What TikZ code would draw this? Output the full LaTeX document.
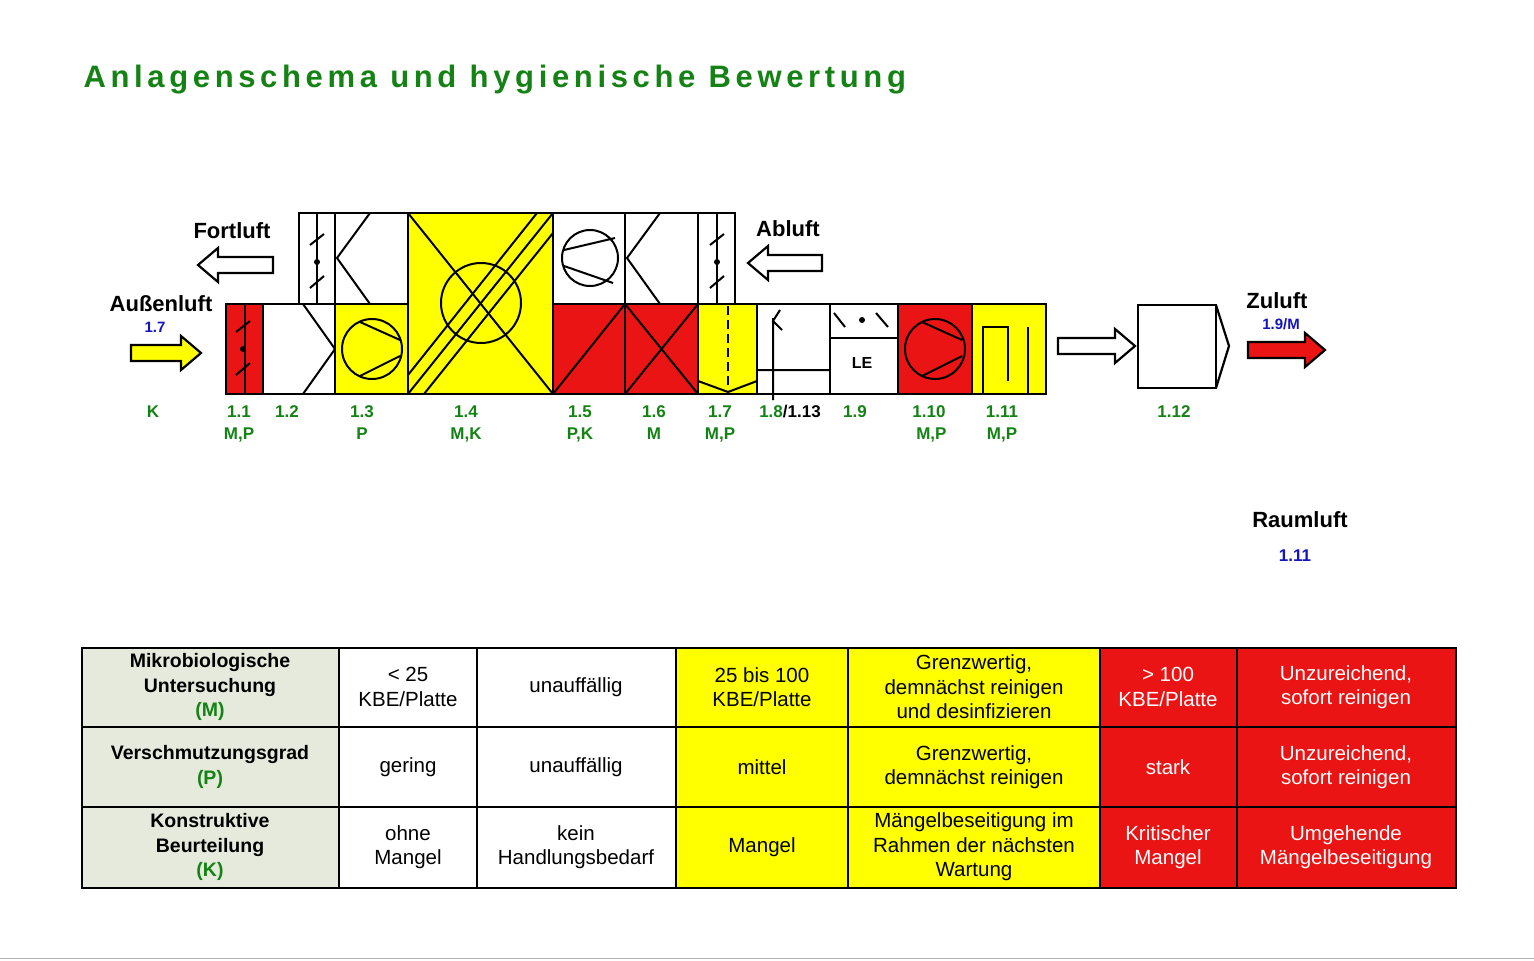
\documentclass[tikz,border=0pt]{standalone}
\usepackage{fontspec}
\setmainfont{Liberation Sans}
\usetikzlibrary{positioning}
\definecolor{ygreen}{RGB}{20,130,20}
\definecolor{lblue}{RGB}{20,20,190}
\definecolor{hred}{RGB}{235,20,20}
\definecolor{hyel}{RGB}{255,255,0}
\definecolor{hgray}{RGB}{229,234,220}
\tikzset{
  unit/.style={draw,line width=2.2pt},
  sym/.style={line width=2pt},
  num/.style={text=ygreen,font=\bfseries\fontsize{17}{22}\selectfont,align=center,inner sep=0pt},
  airlabel/.style={font=\bfseries\fontsize{22}{24}\selectfont,inner sep=0pt},
}
% hollow air arrow: fill, x, y, direction, length
\newcommand\airarrow[5]{\path[draw,line width=2.2pt,fill=#1,shift={(#2,#3)},xscale=#4]
  (0,-8)--(#5-20,-8)--(#5-20,-17)--(#5,0)--(#5-20,17)--(#5-20,8)--(0,8)--cycle;}
% damper symbol around a centre
\newcommand\damper[3]{\begin{scope}[shift={(#1,#2)},rotate=#3]
  \draw[sym] (-7,-17)--(7,-28) (-7,26)--(7,14); \fill (0,0) circle (3);\end{scope}}
\begin{document}
\begin{tikzpicture}[x=1pt,y=-1pt]
\useasboundingbox (0,0) rectangle (1534,961);
\node[anchor=west,text=ygreen,font=\bfseries\fontsize{31}{33}\selectfont\addfontfeature{LetterSpace=15}] (title) at (80,80) {Anlagenschema und hygienische Bewertung};
% upper row
\draw[unit,fill=white] (299,213) rectangle (335,304);
\draw[sym] (317,213)--(317,304); \damper{317}{262}{0}
\draw[unit,fill=white] (335,213) rectangle (408,304);
\draw[sym] (370,213)--(337,258)--(370,304);
\draw[unit,fill=white] (553,213) rectangle (625,304);
\draw[sym] (590,258) circle (28) (615,238)--(564,250) (564,266)--(613,283);
\draw[unit,fill=white] (625,213) rectangle (698,304);
\draw[sym] (660,213)--(627,258)--(660,304);
\draw[unit,fill=white] (698,213) rectangle (735,304);
\draw[sym] (717,213)--(717,304); \damper{717}{262}{0}
% 1.4 heat recovery
\draw[unit,fill=hyel] (408,213) rectangle (553,394);
\draw[sym] (408,213)--(553,394) (408,394)--(553,213);
\draw[sym] (408,375)--(537,213) (424,394)--(553,233);
\draw[sym] (481,303) circle (40);
% lower row
\draw[unit,fill=hred] (226,304) rectangle (263,394);
\draw[sym] (245,304)--(245,394); \damper{243}{349}{0}
\draw[unit,fill=white] (263,304) rectangle (335,394);
\draw[sym] (303,304)--(335,349)--(303,394);
\draw[unit,fill=hyel] (335,304) rectangle (408,394);
\draw[sym] (372,349) circle (30) (360,322)--(400,340) (360,376)--(400,356);
\draw[unit,fill=hred] (553,304) rectangle (625,394);
\draw[sym] (553,394)--(625,304);
\draw[unit,fill=hred] (625,304) rectangle (698,394);
\draw[sym] (625,304)--(698,394) (625,394)--(698,304);
\draw[unit,fill=hyel] (698,304) rectangle (757,394);
\draw[sym,dash pattern=on 9pt off 5pt] (728,306)--(728,390);
\draw[sym] (698,381)--(728,392)--(757,381);
\draw[unit,fill=white] (757,304) rectangle (830,394);
\draw[sym] (757,370)--(830,370) (773,400)--(773,318) (780,310)--(773,321)--(782,330);
\draw[unit,fill=white] (830,304) rectangle (898,394);
\draw[sym] (830,338)--(898,338); \damper{862}{320}{90}
\node[font=\bfseries\fontsize{16}{18}\selectfont] (le) at (862,363) {LE};
\draw[unit,fill=hred] (898,304) rectangle (972,394);
\draw[sym] (935,349) circle (30) (922,322)--(962,340) (922,376)--(962,356);
\draw[unit,fill=hyel] (972,304) rectangle (1046,394);
\draw[sym] (983,394)--(983,327)--(1008,327)--(1008,381) (1028,394)--(1028,327);
\draw[unit,fill=white] (1138,305) rectangle (1216,388);
\draw[unit] (1216,305)--(1229,346)--(1216,388);
% air arrows
\airarrow{hyel}{131}{353}{1}{70}
\airarrow{white}{273}{265}{-1}{75}
\airarrow{white}{822}{263}{-1}{74}
\airarrow{white}{1058}{346}{1}{77}
\airarrow{hred}{1248}{350}{1}{77}
\node[airlabel] (fort) at (232,231) {Fortluft};
\node[airlabel] (aussen) at (161,304) {Außenluft};
\node[airlabel] (ab) at (788,229) {Abluft};
\node[airlabel] (zu) at (1277,301) {Zuluft};
\node[airlabel] (raum) at (1300,520) {Raumluft};
\node[num,text=lblue,font=\bfseries\fontsize{15}{17}\selectfont] (aussenNr) at (155,327) {1.7};
\node[num,text=lblue,font=\bfseries\fontsize{15}{17}\selectfont] (zuNr) at (1281,324) {1.9/M};
\node[num,text=lblue,font=\bfseries\fontsize{17}{19}\selectfont] (raumNr) at (1295,556) {1.11};
% component numbers
\foreach \x/\a/\b in {153/K/,239/1.1/{M,P},287/1.2/,362/1.3/P,466/1.4/{M,K},580/1.5/{P,K},
    654/1.6/M,720/1.7/{M,P},855/1.9/,1002/1.11/{M,P},1174/1.12/,929/1.10/{\ M,P}}
  \node[num,anchor=north] at (\x,402) {\a\strut\\\b\strut};
\node[num,anchor=north,text=black] (n18) at (790,402) {\textcolor{ygreen}{1.8}/1.13\strut};
% table
\foreach \r/\y/\h in {m/648/79,p/727/80,k/807/81}
  \foreach \c/\x/\w/\f in {a/82/257/hgray,b/339/138/white,c/477/199/white,d/676/172/hyel,e/848/252/hyel,f/1100/137/hred,g/1237/219/hred}
    \path[draw,line width=1.6pt,fill=\f] (\x,\y) rectangle ++(\w,\h);
\tikzset{tt/.style={align=center,font=\fontsize{20.5}{24.5}\selectfont,inner sep=0pt},
  th/.style={tt,font=\bfseries\fontsize{19.5}{24.5}\selectfont},
  tw/.style={tt,text=white}}
\node[th] (hm) at (210,687) {Mikrobiologische\\Untersuchung\\\textcolor{ygreen}{(M)}};
\node[th] (hp) at (210,767) {Verschmutzungsgrad\\\textcolor{ygreen}{(P)}};
\node[th] (hk) at (210,847) {Konstruktive\\Beurteilung\\\textcolor{ygreen}{(K)}};
\node[tt] at (408,687) {< 25\\KBE/Platte};
\node[tt] at (576,687) {unauffällig};
\node[tt] at (762,687) {25 bis 100\\KBE/Platte};
\node[tt] at (974,687) {Grenzwertig,\\demnächst reinigen\\und desinfizieren};
\node[tw] at (1168,687) {> 100\\KBE/Platte};
\node[tw] at (1346,687) {Unzureichend,\\sofort reinigen};
\node[tt] at (408,767) {gering};
\node[tt] at (576,767) {unauffällig};
\node[tt] at (762,767) {mittel};
\node[tt] at (974,767) {Grenzwertig,\\demnächst reinigen};
\node[tw] at (1168,767) {stark};
\node[tw] at (1346,767) {Unzureichend,\\sofort reinigen};
\node[tt] at (408,847) {ohne\\Mangel};
\node[tt] at (576,847) {kein\\Handlungsbedarf};
\node[tt] at (762,847) {Mangel};
\node[tt] at (974,847) {Mängelbeseitigung im\\Rahmen der nächsten\\Wartung};
\node[tw] at (1168,847) {Kritischer\\Mangel};
\node[tw] at (1346,847) {Umgehende\\Mängelbeseitigung};
\draw[gray!60,line width=1pt] (0,958)--(1534,958);
\end{tikzpicture}
\end{document}
